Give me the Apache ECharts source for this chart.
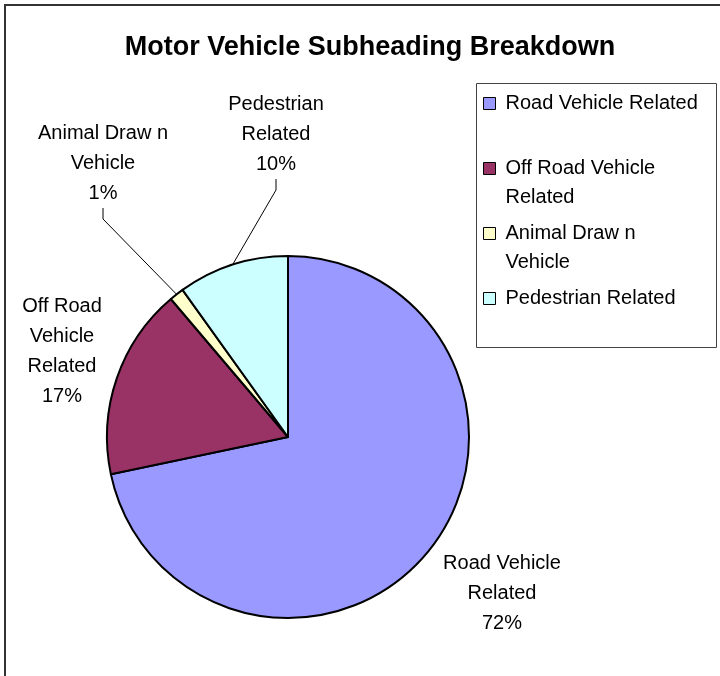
<!DOCTYPE html>
<html>
<head>
<meta charset="utf-8">
<script src="https://cdn.jsdelivr.net/npm/echarts@6/dist/echarts.min.js"></script>
<style>
html, body { margin: 0; padding: 0; background: #fff; }
#chart { width: 720px; height: 676px; }
</style>
</head>
<body>
<div id="chart"></div>
<script>
// 数据
const categories = ['Road Vehicle Related', 'Off Road Vehicle Related', 'Animal Draw n Vehicle', 'Pedestrian Related'];
const shares = [71.7, 17.1, 1.3, 9.9];
const colors = ['#9999FF', '#993366', '#FFFFCC', '#CCFFFF'];
// 扇区标签（换行后）
const sliceLabels = ['Road Vehicle\nRelated', 'Off Road\nVehicle\nRelated', 'Animal Draw n\nVehicle', 'Pedestrian\nRelated'];
// 图例文字（换行后）
const legendLabels = ['Road Vehicle Related', 'Off Road Vehicle\nRelated', 'Animal Draw n\nVehicle', 'Pedestrian Related'];

// 标签位置
const labelSpots = [[502, 593], [62, 351], [103, 163], [276, 134]];

const font = '"Liberation Sans", Arial, sans-serif';

const chart = echarts.init(document.getElementById('chart'));

const option = {
    animation: false,
    title: {
        text: 'Motor Vehicle Subheading Breakdown',
        left: 365,
        top: 29,
        textAlign: 'center',
        textStyle: { fontFamily: font, fontSize: 27, fontWeight: 'bold', color: '#000' }
    },
    legend: {
        orient: 'vertical',
        left: 483,
        top: 60,
        padding: 0,
        itemGap: -22,
        itemWidth: 12,
        itemHeight: 12,
        icon: 'rect',
        selectedMode: false,
        itemStyle: { borderColor: '#000', borderWidth: 1 },
        data: categories,
        formatter: function (name) {
            const txt = legendLabels[categories.indexOf(name)];
            // 上下补空行，使图标对齐第一行
            const lines = txt.split('\n');
            return lines.length > 1 ? '\n' + txt : '\n' + txt + '\n';
        },
        textStyle: { fontFamily: font, fontSize: 20, lineHeight: 29, color: '#000', padding: [0, 0, 0, 5] }
    },
    graphic: [
        {
            type: 'rect',
            shape: { x: 5, y: 5, width: 800, height: 800 },
            style: { fill: 'none', stroke: '#333', lineWidth: 2 },
            silent: true
        },
        {
            type: 'rect',
            shape: { x: 476.5, y: 83.5, width: 240, height: 264 },
            style: { fill: 'none', stroke: '#444', lineWidth: 1 },
            silent: true
        }
    ],
    series: [{
        type: 'pie',
        center: [288, 437],
        radius: 181,
        startAngle: 90,
        clockwise: true,
        avoidLabelOverlap: false,
        emphasis: { disabled: true },
        data: categories.map(function (c, i) {
            return {
                name: c,
                value: shares[i],
                itemStyle: { color: colors[i] },
                labelLine: { show: i >= 2 }
            };
        }),
        itemStyle: { borderColor: '#000', borderWidth: 2 },
        label: {
            show: true,
            position: 'outside',
            fontFamily: font,
            fontSize: 20,
            lineHeight: 30,
            color: '#000',
            align: 'center',
            formatter: function (p) {
                return sliceLabels[p.dataIndex] + '\n' + Math.round(p.percent) + '%';
            }
        },
        labelLine: {
            length: 20,
            length2: 11,
            lineStyle: { color: '#000', width: 1 }
        },
        labelLayout: function (p) {
            const s = labelSpots[p.dataIndex];
            return { x: s[0], y: s[1], align: 'center', verticalAlign: 'middle' };
        }
    }]
};

chart.setOption(option);
</script>
</body>
</html>
